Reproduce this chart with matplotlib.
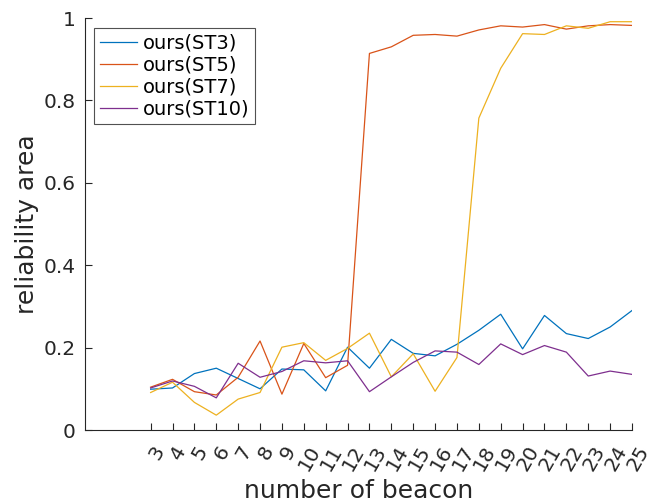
import matplotlib
matplotlib.use('Agg')
import matplotlib.pyplot as plt
import matplotlib.transforms as mtransforms

beacons = list(range(3, 26))

st3 = [0.099, 0.102, 0.137, 0.150, 0.125, 0.100, 0.148, 0.146, 0.095, 0.201, 0.150,
       0.220, 0.186, 0.180, 0.208, 0.242, 0.281, 0.197, 0.278, 0.234, 0.222, 0.250, 0.290]
st5 = [0.104, 0.123, 0.093, 0.085, 0.128, 0.216, 0.087, 0.210, 0.127, 0.157, 0.914,
       0.930, 0.958, 0.960, 0.956, 0.971, 0.981, 0.978, 0.984, 0.973, 0.981, 0.984, 0.982]
st7 = [0.091, 0.116, 0.067, 0.036, 0.075, 0.091, 0.201, 0.212, 0.169, 0.198, 0.235,
       0.129, 0.185, 0.094, 0.176, 0.757, 0.878, 0.962, 0.960, 0.981, 0.975, 0.991, 0.991]
st10 = [0.102, 0.119, 0.106, 0.078, 0.162, 0.128, 0.142, 0.168, 0.163, 0.168, 0.093,
        0.129, 0.164, 0.192, 0.189, 0.159, 0.209, 0.183, 0.205, 0.189, 0.131, 0.143, 0.135]

series = [('ours(ST3)', st3, '#0072BD'),
          ('ours(ST5)', st5, '#D95319'),
          ('ours(ST7)', st7, '#EDB120'),
          ('ours(ST10)', st10, '#7E2F8E')]

plt.rcParams['font.family'] = 'DejaVu Sans'
axc = '#262626'

fig = plt.figure(figsize=(6.62, 5.04), dpi=100)
ax = fig.add_axes([85 / 662, 74 / 504, 547 / 662, 412 / 504])

for name, vals, col in series:
    ax.plot(beacons, vals, color=col, lw=0.9, label=name)

ax.set_xlim(0, 25)
ax.set_ylim(0, 1)
ax.set_xticks(beacons)
ax.set_yticks([0, 0.2, 0.4, 0.6, 0.8, 1])
ax.set_yticklabels(['0', '0.2', '0.4', '0.6', '0.8', '1'])

# matlab style: box off, ticks inside
for side in ['top', 'right']:
    ax.spines[side].set_visible(False)
for side in ['left', 'bottom']:
    ax.spines[side].set_color(axc)
    ax.spines[side].set_linewidth(0.8)

ax.tick_params(direction='in', length=5, width=0.8, colors=axc, labelsize=14.5)
ax.tick_params(axis='x', pad=9)
ax.tick_params(axis='y', pad=7)

offset = mtransforms.ScaledTranslation(6 / 100, 0, fig.dpi_scale_trans)
for lbl in ax.get_xticklabels():
    lbl.set_rotation(60)
    lbl.set_ha('center')
    lbl.set_transform(lbl.get_transform() + offset)

ax.set_xlabel('number of beacon', fontsize=18, color=axc, labelpad=3.5)
ax.set_ylabel('reliability area', fontsize=18, color=axc, labelpad=3)

leg = ax.legend(loc='upper left', bbox_to_anchor=(0.0165, 0.976), borderaxespad=0,
                fontsize=14, frameon=True, fancybox=False, labelspacing=0.15,
                handlelength=1.9, handletextpad=0.3, borderpad=0.3)
leg.get_frame().set_edgecolor(axc)
leg.get_frame().set_linewidth(0.8)

fig.savefig('out.png', dpi=100)
